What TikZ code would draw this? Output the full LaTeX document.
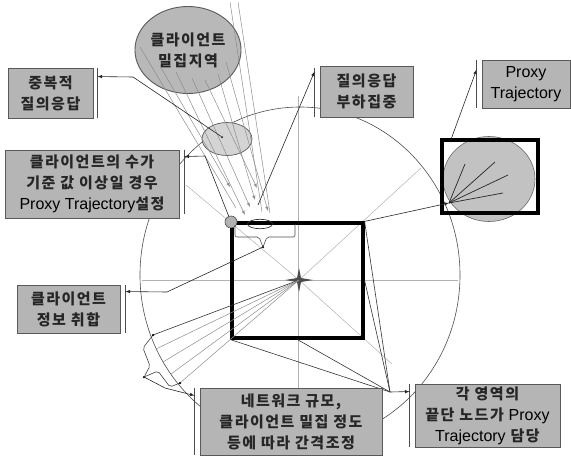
\documentclass[tikz,border=0pt]{standalone}
\usepackage{fontspec}
\newfontfamily\kfont{Noto Sans CJK KR}[LetterSpace=10]
\newfontfamily\latf{Liberation Sans}
\newcommand\eng[1]{{\latf\mdseries\color{black}\fontsize{16}{21}\selectfont #1}}
\usetikzlibrary{shapes.geometric,calc}

\tikzset{
  callout/.style={draw=black!65, fill=black!29, line width=.9pt, align=center,
    font=\kfont\bfseries\fontsize{15}{21}\selectfont, text=black!85, inner sep=0pt},
  bar/.style={draw=black!70, line width=.8pt},
  guide/.style={draw=black!30, line width=.5pt},
  ray/.style={draw=black!45, line width=.5pt},
  feed/.style={->, draw=black!45, line width=.5pt},
  pointer/.style={->, draw=black!85, line width=.6pt},
  dot/.style={circle, fill=black, inner sep=0pt, minimum size=2.5pt},
}

\begin{document}
\begin{tikzpicture}[x=1pt, y=-1pt, >=latex]
\useasboundingbox (0,0) rectangle (571,458);

% guide lines
\coordinate (ctr) at (299,280);
\draw[guide] (142,280) -- (458,280);
\draw[guide] (298,96) -- (298,388);
\draw[guide] (186,185) -- (ctr) -- (392,364);
\draw[guide] (421,168) -- (ctr);

% ring
\draw[black!70, line width=.6pt] (300,275) ellipse [x radius=160pt, y radius=168pt];

% dense client area and overlap
\node[ellipse, callout, fill=black!28, minimum width=97, minimum height=87] (crowd) at (188,50) {클라이언트\\밀집지역};
\node[ellipse, draw=black!65, fill=black!17, line width=.7pt, minimum width=50, minimum height=33] (dupzone) at (227,139) {};
\node[dot, minimum size=2pt] (dupdot) at (222,137) {};

\draw[ray] (230,2) -- (262,212);
\draw[ray] (238,2) -- (270,213);
\draw[ray] (140,47) -- (236,208);
\foreach \a/\b/\c/\d in {160/66/230/187, 176/72/245/215, 192/78/250/207, 205/80/257/188, 218/74/255/200, 226/62/268/211}
  \draw[feed] (\a,\b) -- (\c,\d);

% main region
\node[draw, line width=3.2pt, minimum width=131, minimum height=115, inner sep=0pt] (mainsq) at (297.5,280.5) {};
\node[ellipse, draw=black!80, line width=.7pt, minimum width=25, minimum height=9] (edgezone) at (260,224) {};
\node[circle, fill=black!30, draw=black!70, line width=.6pt, minimum size=12, inner sep=0pt] (corner) at (231,222) {};

% star at the centre
\fill[black!70] (ctr) +(-14,0) -- +(-2,-2) -- +(0,-12) -- +(2,-2) -- +(14,0) -- +(2,2) -- +(0,12) -- +(-2,2) -- cycle;

% brace under the top edge
\coordinate (bt) at (263,247);
\draw[black!70, line width=.6pt, rounded corners=2pt] (235,225) -- (235,237) -- (259,237) -- (bt) -- (267,237) -- (295,237) -- (295,223);
\node[dot] at (bt) {};
\node[dot] at (295,223) {};

% fan to the lower left
\coordinate (fa) at (153,335);
\coordinate (fb) at (180,383);
\draw[black!80, line width=.6pt] (ctr) -- (fa);
\foreach \p in {(156,349), (163,362), (171,374), (fb)}
  \draw[ray] (ctr) -- \p;
\coordinate (lt) at (144,377);
\draw[black!75, line width=.6pt, rounded corners=2pt] (fa) -- (143,348) -- (150,366) -- (lt) -- (158,371) -- (170,387) -- (fb);
\node[dot] at (fa) {};
\node[dot] at (fb) {};
\node[dot] at (lt) {};

% proxy region on the right
\node[ellipse, draw=black!60, fill=black!24, line width=.6pt, minimum width=92, minimum height=85] (proxyzone) at (489,179) {};
\coordinate (pz) at (449,203);
\foreach \p in {(465,164), (495,162), (508,175), (503,193)}
  \draw[black!85, line width=.7pt] (pz) -- \p;
\node[draw, line width=3.2pt, minimum width=96, minimum height=73, inner sep=0pt] (proxysq) at (490,176.5) {};

% converging lines
\coordinate (hub) at (390,392);
\foreach \p in {(mainsq.north east), (mainsq.east), (mainsq.south), (mainsq.south west)}
  \draw[black!80, line width=.6pt] \p -- (hub);

% boxes
\node[callout, minimum width=85, minimum height=50] (dupbox) at (50.5,93) {중복적\\질의응답};
\node[callout, minimum width=174, minimum height=68] (setbox) at (92,184) {클라이언트의 수가\\기준 값 이상일 경우\\\eng{Proxy Trajectory}설정};
\node[callout, minimum width=103, minimum height=48] (infobox) at (68.5,309) {클라이언트\\정보 취합};
\node[callout, minimum width=93, minimum height=51] (loadbox) at (366.5,91.5) {질의응답\\부하집중};
\node[callout, minimum width=88, minimum height=48] (proxybox) at (526,84) {\eng{Proxy}\\\eng{Trajectory}};
\node[callout, minimum width=182, minimum height=67] (netbox) at (291,421.5) {네트워크 규모,\\클라이언트 밀집 정도\\등에 따라 간격조정};
\node[callout, minimum width=145, minimum height=63] (tailbox) at (487.5,415.5) {각 영역의\\끝단 노드가 \eng{Proxy}\\\eng{Trajectory} 담당};

% accent bars
\draw[bar] ($(dupbox.north east)+(4,0)$) -- ($(dupbox.south east)+(4,0)$);
\draw[bar] ($(setbox.north east)+(5,0)$) -- ($(setbox.south east)+(5,-4)$);
\draw[bar] ($(infobox.north east)+(5,0)$) -- ($(infobox.south east)+(5,0)$);
\draw[bar] ($(loadbox.north west)+(-5,2)$) -- ($(loadbox.south west)+(-5,0)$);
\draw[bar] ($(proxybox.north west)+(-5,0)$) -- ($(proxybox.south west)+(-5,0)$);
\draw[bar] ($(netbox.north west)+(-5,0)$) -- ($(netbox.south west)+(-5,0)$);
\draw[bar] ($(tailbox.north west)+(-5,0)$) -- ($(tailbox.south west)+(-5,0)$);

% pointers
\draw[pointer] (dupdot) -- (133,77) -- ($(dupbox.north east)+(4,9)$);
\draw[pointer] (corner) -- (205,156) -- ($(setbox.north east)+(5,7)$);
\draw[pointer] (258,205) -- ($(loadbox.north west)+(-5,6)$);
\draw[pointer] (bt) -- (167,292) -- ($(infobox.north east)+(5,7)$);
\draw[pointer] (lt) -- (165,388) -- ($(netbox.north west)+(-5,8)$);
\draw[pointer] (hub) -- ($(tailbox.north west)+(-5,8)$);
\draw[pointer] (mainsq.north east) -- (pz);
\draw[pointer] ($(proxysq.north west)+(11,0)$) -- ($(proxybox.north west)+(-5,10)$);
\end{tikzpicture}
\end{document}
